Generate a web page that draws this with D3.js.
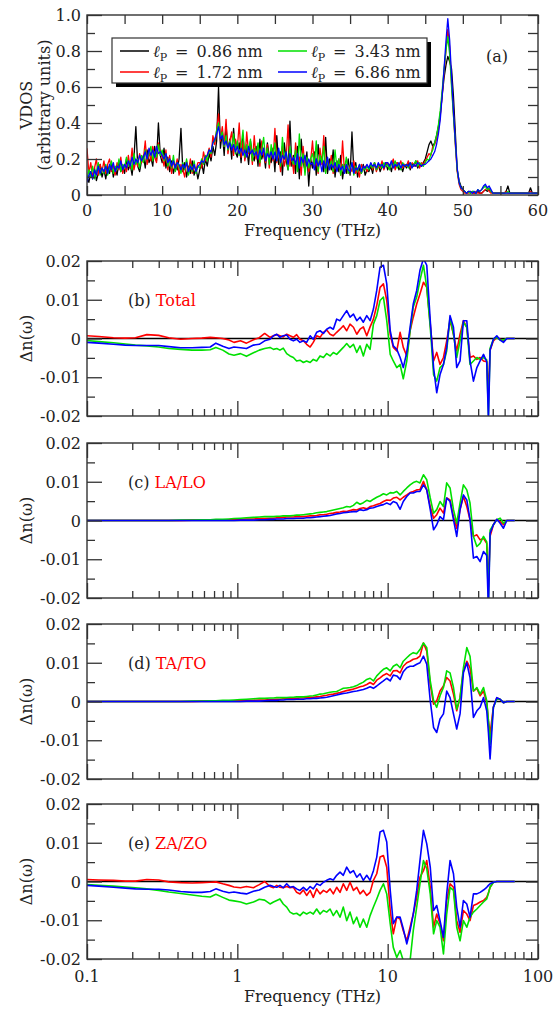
<!DOCTYPE html>
<html>
<head>
<meta charset="utf-8">
<script src="https://cdnjs.cloudflare.com/ajax/libs/d3/7.8.5/d3.min.js"></script>
<style>
body { margin: 0; background: #fff; }
text { font-family: "DejaVu Serif", "Liberation Serif", serif; fill: #222; }
</style>
</head>
<body>
<div id="chart"></div>
<script>
// ---- panel (a): VDOS, frequency grid in THz (0.25 THz steps) ----
var freqA = [0,0.25,0.5,0.75,1,1.25,1.5,1.75,2,2.25,
  2.5,2.75,3,3.25,3.5,3.75,4,4.25,4.5,4.75,
  5,5.25,5.5,5.75,6,6.25,6.5,6.75,7,7.25,
  7.5,7.75,8,8.25,8.5,8.75,9,9.25,9.5,9.75,
  10,10.25,10.5,10.75,11,11.25,11.5,11.75,12,12.25,
  12.5,12.75,13,13.25,13.5,13.75,14,14.25,14.5,14.75,
  15,15.25,15.5,15.75,16,16.25,16.5,16.75,17,17.25,
  17.5,17.75,18,18.25,18.5,18.75,19,19.25,19.5,19.75,
  20,20.25,20.5,20.75,21,21.25,21.5,21.75,22,22.25,
  22.5,22.75,23,23.25,23.5,23.75,24,24.25,24.5,24.75,
  25,25.25,25.5,25.75,26,26.25,26.5,26.75,27,27.25,
  27.5,27.75,28,28.25,28.5,28.75,29,29.25,29.5,29.75,
  30,30.25,30.5,30.75,31,31.25,31.5,31.75,32,32.25,
  32.5,32.75,33,33.25,33.5,33.75,34,34.25,34.5,34.75,
  35,35.25,35.5,35.75,36,36.25,36.5,36.75,37,37.25,
  37.5,37.75,38,38.25,38.5,38.75,39,39.25,39.5,39.75,
  40,40.25,40.5,40.75,41,41.25,41.5,41.75,42,42.25,
  42.5,42.75,43,43.25,43.5,43.75,44,44.25,44.5,44.75,
  45,45.25,45.5,45.75,46,46.25,46.5,46.75,47,47.25,
  47.5,47.75,48,48.25,48.5,48.75,49,49.25,49.5,49.75,
  50,50.25,50.5,50.75,51,51.25,51.5,51.75,52,52.25,
  52.5,52.75,53,53.25,53.5,53.75,54,54.25,54.5,54.75,
  55,55.25,55.5,55.75,56,56.25,56.5,56.75,57,57.25,
  57.5,57.75,58,58.25,58.5,58.75,59,59.25,59.5,59.75,
  60];

var vdos086 = [0.10,0.07,0.13,0.09,0.15,0.08,0.12,0.17,0.10,0.14,
  0.09,0.16,0.12,0.18,0.10,0.15,0.11,0.19,0.13,0.16,
  0.12,0.20,0.14,0.17,0.11,0.21,0.38,0.16,0.13,0.19,
  0.22,0.15,0.25,0.18,0.21,0.16,0.27,0.19,0.40,0.22,
  0.18,0.26,0.15,0.21,0.13,0.19,0.12,0.17,0.14,0.20,
  0.37,0.13,0.18,0.10,0.16,0.12,0.19,0.11,0.15,0.09,
  0.14,0.18,0.12,0.20,0.16,0.23,0.19,0.27,0.22,0.30,
  0.60,0.26,0.35,0.22,0.39,0.25,0.31,0.20,0.37,0.24,
  0.21,0.29,0.18,0.33,0.20,0.26,0.17,0.30,0.22,0.19,
  0.27,0.16,0.31,0.20,0.24,0.15,0.29,0.21,0.18,0.26,
  0.13,0.33,0.17,0.24,0.11,0.29,0.19,0.14,0.41,0.16,
  0.22,0.12,0.27,0.09,0.31,0.18,0.14,0.24,0.05,0.20,
  0.15,0.24,0.11,0.28,0.17,0.21,0.13,0.32,0.12,0.20,
  0.14,0.25,0.10,0.19,0.13,0.22,0.09,0.17,0.12,0.20,
  0.11,0.35,0.13,0.18,0.10,0.15,0.12,0.17,0.11,0.14,
  0.13,0.16,0.12,0.18,0.14,0.17,0.13,0.16,0.15,0.18,
  0.14,0.17,0.13,0.19,0.15,0.18,0.14,0.16,0.13,0.17,
  0.15,0.18,0.14,0.17,0.16,0.19,0.15,0.17,0.16,0.18,
  0.20,0.24,0.28,0.30,0.27,0.29,0.33,0.38,0.45,0.55,
  0.65,0.72,0.77,0.74,0.70,0.55,0.35,0.14,0.08,0.05,
  0.03,0.02,0.01,0.02,0.01,0.02,0.01,0.01,0.02,0.01,
  0.01,0.02,0.03,0.02,0.03,0.02,0.01,0.01,0.01,0.01,
  0.01,0.01,0.01,0.02,0.05,0.01,0.01,0.01,0.01,0.01,
  0.01,0.01,0.01,0.01,0.01,0.01,0.04,0.01,0.01,0.01,
  0.01];

var vdos172 = [0.26,0.12,0.18,0.10,0.15,0.20,0.11,0.17,0.13,0.19,
  0.12,0.17,0.20,0.13,0.16,0.11,0.18,0.14,0.21,0.12,
  0.17,0.13,0.22,0.15,0.26,0.14,0.19,0.16,0.23,0.18,
  0.20,0.30,0.17,0.24,0.19,0.27,0.21,0.18,0.29,0.23,
  0.21,0.16,0.25,0.14,0.22,0.12,0.19,0.15,0.20,0.11,
  0.17,0.14,0.10,0.19,0.13,0.20,0.12,0.16,0.14,0.18,
  0.18,0.15,0.24,0.19,0.22,0.26,0.21,0.33,0.28,0.36,
  0.45,0.30,0.38,0.27,0.42,0.23,0.30,0.35,0.22,0.31,
  0.26,0.40,0.21,0.30,0.19,0.35,0.23,0.28,0.17,0.33,
  0.20,0.26,0.16,0.30,0.22,0.18,0.28,0.15,0.25,0.19,
  0.37,0.18,0.24,0.13,0.27,0.16,0.21,0.39,0.16,0.22,
  0.12,0.29,0.17,0.21,0.11,0.27,0.15,0.20,0.13,0.19,
  0.30,0.16,0.20,0.12,0.26,0.17,0.33,0.13,0.19,0.15,
  0.22,0.12,0.18,0.14,0.20,0.11,0.30,0.13,0.17,0.12,
  0.16,0.13,0.19,0.12,0.15,0.10,0.17,0.14,0.16,0.13,
  0.15,0.17,0.14,0.18,0.13,0.16,0.15,0.19,0.14,0.17,
  0.18,0.15,0.17,0.20,0.14,0.18,0.16,0.19,0.15,0.17,
  0.16,0.19,0.15,0.18,0.17,0.16,0.19,0.15,0.18,0.17,
  0.19,0.21,0.23,0.22,0.27,0.28,0.31,0.36,0.44,0.56,
  0.68,0.80,0.92,0.82,0.62,0.45,0.28,0.13,0.06,0.03,
  0.02,0.01,0.01,0.01,0.02,0.01,0.01,0.02,0.01,0.01,
  0.01,0.02,0.03,0.04,0.02,0.01,0.01,0.01,0.01,0.01,
  0.01,0.01,0.01,0.02,0.01,0.01,0.01,0.01,0.01,0.01,
  0.01,0.01,0.01,0.01,0.01,0.01,0.02,0.01,0.01,0.01,
  0.01];

var vdos343 = [0.08,0.14,0.10,0.16,0.09,0.13,0.18,0.11,0.15,0.12,
  0.17,0.11,0.15,0.19,0.12,0.16,0.14,0.20,0.13,0.17,
  0.15,0.21,0.16,0.19,0.14,0.23,0.17,0.20,0.15,0.22,
  0.18,0.25,0.20,0.23,0.27,0.19,0.24,0.21,0.28,0.22,
  0.25,0.19,0.23,0.16,0.20,0.15,0.22,0.13,0.18,0.16,
  0.12,0.18,0.14,0.20,0.11,0.17,0.13,0.19,0.12,0.16,
  0.15,0.20,0.17,0.22,0.19,0.25,0.23,0.29,0.30,0.36,
  0.40,0.31,0.35,0.27,0.33,0.25,0.30,0.26,0.34,0.23,
  0.30,0.22,0.27,0.36,0.21,0.28,0.24,0.31,0.19,0.26,
  0.22,0.29,0.18,0.25,0.32,0.20,0.26,0.17,0.28,0.21,
  0.29,0.19,0.25,0.16,0.32,0.20,0.24,0.14,0.27,0.19,
  0.17,0.25,0.13,0.34,0.16,0.23,0.11,0.21,0.15,0.20,
  0.23,0.17,0.30,0.13,0.22,0.18,0.27,0.12,0.20,0.15,
  0.19,0.13,0.25,0.15,0.20,0.11,0.17,0.14,0.21,0.12,
  0.15,0.18,0.11,0.16,0.13,0.17,0.12,0.15,0.14,0.16,
  0.14,0.17,0.15,0.18,0.14,0.16,0.17,0.15,0.18,0.16,
  0.17,0.14,0.18,0.16,0.19,0.15,0.17,0.14,0.18,0.16,
  0.17,0.15,0.18,0.16,0.17,0.19,0.16,0.18,0.17,0.16,
  0.18,0.20,0.19,0.23,0.25,0.29,0.33,0.39,0.47,0.58,
  0.70,0.80,0.88,0.78,0.60,0.44,0.29,0.14,0.07,0.04,
  0.03,0.02,0.01,0.02,0.01,0.02,0.02,0.01,0.03,0.02,
  0.03,0.04,0.05,0.03,0.04,0.02,0.01,0.01,0.01,0.01,
  0.01,0.01,0.01,0.01,0.02,0.01,0.01,0.01,0.01,0.01,
  0.01,0.01,0.01,0.01,0.01,0.01,0.01,0.01,0.01,0.01,
  0.01];

var vdos686 = [0.07,0.11,0.13,0.09,0.14,0.11,0.16,0.12,0.15,0.13,
  0.16,0.12,0.17,0.14,0.18,0.13,0.16,0.15,0.19,0.14,
  0.17,0.15,0.19,0.16,0.21,0.17,0.20,0.18,0.22,0.19,
  0.21,0.24,0.20,0.26,0.22,0.25,0.21,0.27,0.23,0.24,
  0.22,0.20,0.23,0.18,0.20,0.16,0.19,0.15,0.18,0.17,
  0.14,0.17,0.15,0.18,0.13,0.16,0.14,0.17,0.13,0.16,
  0.17,0.19,0.18,0.21,0.22,0.25,0.24,0.29,0.31,0.34,
  0.38,0.31,0.33,0.28,0.30,0.26,0.29,0.25,0.28,0.24,
  0.27,0.23,0.26,0.22,0.25,0.21,0.27,0.23,0.25,0.22,
  0.24,0.20,0.25,0.22,0.26,0.19,0.23,0.21,0.24,0.20,
  0.24,0.19,0.26,0.18,0.22,0.20,0.24,0.17,0.23,0.19,
  0.21,0.17,0.23,0.15,0.21,0.18,0.22,0.16,0.20,0.17,
  0.18,0.14,0.20,0.16,0.19,0.13,0.19,0.15,0.21,0.14,
  0.17,0.15,0.18,0.13,0.17,0.14,0.16,0.12,0.17,0.14,
  0.13,0.18,0.12,0.15,0.14,0.17,0.13,0.16,0.15,0.17,
  0.15,0.18,0.16,0.17,0.15,0.18,0.16,0.17,0.15,0.18,
  0.18,0.16,0.19,0.15,0.17,0.16,0.18,0.15,0.17,0.16,
  0.17,0.16,0.18,0.15,0.17,0.16,0.18,0.17,0.16,0.17,
  0.17,0.18,0.19,0.20,0.22,0.24,0.28,0.34,0.42,0.55,
  0.70,0.85,0.98,0.86,0.66,0.47,0.30,0.15,0.07,0.04,
  0.03,0.02,0.01,0.02,0.02,0.01,0.02,0.01,0.03,0.02,
  0.03,0.05,0.06,0.04,0.05,0.03,0.01,0.01,0.01,0.01,
  0.01,0.01,0.01,0.01,0.01,0.01,0.01,0.01,0.01,0.01,
  0.01,0.01,0.01,0.01,0.01,0.01,0.01,0.01,0.01,0.01,
  0.01];

var legendLabels = ["0.86 nm", "1.72 nm", "3.43 nm", "6.86 nm"];
var seriesColors = ["#000000", "#ff0000", "#00e000", "#0000ff"];

// ---- panels (b)-(e): delta n(omega), values in units of 1e-3 ----
var freqD = [0.1,0.12,0.15,0.18,0.21,0.25,0.3,0.35,0.42,0.5,0.58,0.66,0.72,0.8,0.88,0.95,1.05,1.15,1.28,1.4,1.52,
  1.65,1.74,1.83,1.92,2.02,2.13,2.24,2.36,2.48,2.61,
  2.75,2.89,3.05,3.2,3.37,3.55,3.74,3.93,4.14,4.35,
  4.58,4.82,5.07,5.34,5.62,5.92,6.23,6.55,6.89,7.26,
  7.64,8.04,8.46,8.9,9.37,9.86,10.4,10.9,11.5,12.1,
  12.7,13.4,14.1,14.8,15.6,16.4,17.3,18.2,19.2,20.2,
  21.2,22.3,23.5,24.7,26,27.4,28.8,30.3,31.9,33.6,
  35.3,37.2,39.2,41.2,43.4,45.6,46.8,48,50.5,53.2,56,58.9,62,70];

var totalRed = [0.7,0.5,0.2,0.1,0.2,1.0,0.8,0.2,-0.2,0.0,0.1,0.3,0.2,0.0,-0.4,-1.0,-0.6,-1.2,-0.3,0.2,1.3,
  0.3,0.7,1.0,0.7,0.4,1.1,0.7,0.3,1.0,-0.2,
  -0.6,-1.5,-2.2,-1.0,0.7,0.3,1.6,2.2,1.1,0.7,
  1.6,2.4,3.3,2.0,3.7,2.9,1.1,2.4,3.0,0.7,
  3.0,5.0,8.5,13.2,14.1,9.8,1.1,-2.3,-3.2,1.6,
  -2.3,-4.5,2.0,5.5,8.9,11.5,14.5,13.2,3.7,-5.8,
  -3.6,-6.7,-4.9,-0.6,4.6,1.1,-3.2,1.1,4.6,2.9,
  -4.9,-4.5,-5.4,-4.9,-5.8,-6.0,-14.0,-3.0,-0.6,0.3,-0.2,-0.6,0,0];
var totalGreen = [-0.5,-0.8,-1.1,-1.4,-1.7,-1.9,-2.2,-2.6,-2.8,-3.0,-3.0,-2.9,-2.3,-3.0,-4.0,-4.3,-3.9,-4.6,-3.7,-3.0,-2.6,
  -2.3,-2.8,-2.6,-3.0,-2.5,-3.9,-4.5,-4.9,-5.8,-5.6,
  -6.2,-5.8,-6.2,-5.4,-5.8,-4.5,-4.9,-3.9,-4.5,-3.6,
  -4.1,-3.2,-2.3,-1.3,-2.3,-1.5,-3.6,-1.9,-4.5,-1.5,
  -2.8,3.7,5.9,9.8,10.7,4.6,-4.1,-5.8,-7.5,-6.7,
  -10.4,-5.8,2.0,8.1,10.7,15.0,18.9,13.2,2.9,-9.3,
  -11.0,-7.5,-6.7,-3.2,5.5,1.1,-4.9,-0.6,4.2,2.9,
  -6.7,-5.8,-4.9,-5.4,-4.9,-5.5,-19.7,-2.5,-0.2,0.3,-0.4,-0.4,0,0];
var totalBlue = [-1.0,-1.2,-1.5,-1.7,-1.8,-1.8,-1.8,-2.1,-2.4,-2.4,-2.3,-2.2,-1.2,-2.0,-2.6,-2.2,-2.4,-2.6,-1.7,-1.5,-0.6,
  -0.2,0.7,1.1,0.3,0.7,0.9,-0.2,-0.6,-0.2,-1.0,
  -0.6,-1.0,0.7,-0.2,1.6,2.0,1.3,2.4,2.9,2.4,
  5.0,4.6,5.9,7.2,5.5,6.3,4.6,5.5,4.2,5.9,
  4.6,7.6,12.4,18.4,18.9,14.1,2.0,-1.9,-2.8,-4.9,
  -7.5,-3.6,2.9,8.9,12.4,17.6,20.6,18.9,4.6,-7.5,
  -14.0,-9.3,-6.7,-2.3,5.9,2.9,-7.5,-5.8,4.6,4.6,
  -5.8,-11.0,-7.5,-5.8,-4.1,-6.0,-21.0,-3.0,-0.2,0.7,-0.4,-1.0,0,0];

var laRed = [0,0,0,0,0,0,0,0,0,0.1,0.1,0.1,0.2,0.2,0.2,0.3,0.3,0.4,0.4,0.5,0.5,
  0.6,0.6,0.7,0.7,0.8,0.9,0.9,0.9,1.0,1.0,
  1.0,1.1,1.2,1.2,1.3,1.5,1.5,1.6,1.8,1.9,
  2.1,2.2,2.4,2.3,2.6,2.8,2.7,3.1,3.3,3.0,
  3.6,3.8,4.1,4.4,4.9,5.3,5.2,5.8,6.0,5.3,
  6.0,6.6,7.2,7.5,7.9,8.0,10.1,7.9,3.6,0.6,
  1.5,3.2,1.9,5.8,5.3,1.0,-2.0,2.8,6.2,3.6,
  0.2,-4.1,-3.7,-5.0,-4.6,-5.9,-17.0,-4.1,-1.1,0.3,-0.3,-1.1,0,0];
var laGreen = [0,0,0,0,0,0,0,0,0.1,0.1,0.2,0.2,0.3,0.3,0.4,0.5,0.6,0.7,0.8,0.9,1.0,
  1.0,1.0,1.1,1.1,1.2,1.2,1.2,1.3,1.4,1.4,
  1.5,1.6,1.7,1.8,2.0,2.1,2.2,2.3,2.5,2.7,
  2.9,3.1,3.3,3.6,3.5,3.9,4.7,4.2,4.6,5.2,
  4.9,5.5,6.0,6.4,6.9,6.6,7.2,7.1,7.5,6.6,
  7.5,8.4,9.2,9.8,10.1,9.7,11.8,10.5,5.8,1.9,
  2.8,4.9,3.6,9.7,8.4,2.8,-0.7,4.5,9.2,7.9,
  4.5,-4.1,-6.7,-5.9,-4.1,-5.5,-21.0,-2.5,-1.1,0.2,0.6,-0.7,0,0];
var laBlue = [0,0,0,0,0,0,0,0,0,0,0,0,0,0,0,0,0.1,0.1,0.1,0.2,0.2,
  0.3,0.3,0.4,0.4,0.4,0.5,0.5,0.5,0.6,0.6,
  0.6,0.7,0.7,0.8,0.9,1.0,1.1,1.2,1.3,1.5,
  1.7,1.8,2.0,2.1,2.2,2.3,2.3,2.8,2.6,2.8,
  3.2,3.3,3.6,3.9,4.1,4.5,4.1,4.9,4.5,2.9,
  4.9,6.2,7.1,7.1,7.5,7.5,9.2,7.9,2.8,-2.4,
  -1.1,1.0,0.2,5.8,4.9,0.2,-4.1,2.8,6.6,5.3,
  0.2,-9.7,-9.3,-10.6,-8.0,-9.0,-23.0,-3.3,-1.1,0.3,-0.7,-2.0,0,0];

var taRed = [0,0,0,0,0,0,0,0,0,0,0.1,0.1,0.1,0.1,0.2,0.2,0.2,0.3,0.3,0.4,0.4,
  0.5,0.5,0.6,0.6,0.7,0.7,0.8,0.8,0.8,0.9,
  0.9,1.0,1.1,1.1,1.2,1.3,1.5,1.6,1.8,1.9,
  2.1,2.3,2.6,2.8,3.0,3.2,3.5,3.8,4.0,4.4,
  4.9,4.4,5.5,6.1,6.8,7.2,6.6,7.9,8.0,7.4,
  9.1,10.0,10.4,10.9,11.1,11.7,15.1,13.0,4.4,-0.7,
  0.2,2.7,4.0,6.2,5.3,1.9,-2.4,1.0,7.9,10.4,
  8.7,2.7,3.4,1.5,2.7,-0.3,-5.0,-8.4,-1.4,0.9,0.5,-0.3,0,0];
var taGreen = [0,0,0,0,0,0,0,0,0,0.1,0.1,0.2,0.2,0.3,0.3,0.4,0.5,0.6,0.7,0.8,0.8,
  0.9,0.9,1.0,1.0,1.0,1.0,1.1,1.1,1.2,1.2,
  1.2,1.3,1.4,1.5,1.7,1.9,2.0,2.2,2.4,2.5,
  2.6,3.0,3.4,3.5,3.6,3.8,4.1,4.6,5.0,5.7,
  6.0,5.3,6.6,7.5,8.3,8.7,7.9,9.1,9.6,8.7,
  10.4,11.3,12.1,12.6,12.3,13.4,15.1,13.9,5.3,0.2,
  -1.5,1.5,3.6,7.9,7.4,3.6,-2.0,1.0,8.7,13.9,
  11.7,2.7,3.6,1.9,3.6,0.2,-5.0,-11.0,-1.5,0.6,0.6,-0.3,0,0];
var taBlue = [0,0,0,0,0,0,0,0,0,0,0,0,0,0,0,0,0,0.1,0.1,0.1,0.2,
  0.3,0.3,0.3,0.4,0.4,0.5,0.5,0.5,0.6,0.6,
  0.6,0.7,0.7,0.8,0.8,0.9,1.0,1.1,1.3,1.5,
  1.7,1.9,2.1,2.2,2.4,2.6,2.7,2.9,3.1,3.4,
  3.8,3.4,4.0,4.7,5.3,6.0,5.3,6.8,6.6,5.7,
  7.7,8.7,9.1,9.1,9.6,10.0,11.7,9.6,0.2,-6.7,
  -8.0,-4.5,-3.2,2.7,1.0,-3.2,-7.1,-3.2,7.4,10.0,
  6.2,-4.1,-2.4,-1.5,1.0,-2.4,-8.0,-14.8,-1.5,1.0,0.6,-0.3,0,0];

var zaRed = [0.5,0.4,0.3,0.1,0.1,0.5,0.4,-0.1,-0.3,-0.4,-0.3,-0.2,-0.1,-0.6,-1.0,-1.4,-1.6,-1.3,-1.6,-0.8,0.0,
  -1.3,-1.6,-1.0,-1.5,-1.6,-1.3,-1.6,-1.5,-2.8,-3.2,
  -2.2,-3.6,-2.3,-4.1,-1.9,-3.2,-2.3,-2.8,-1.9,-3.2,
  -1.5,-2.8,-0.6,-2.3,-0.2,-2.3,-1.5,-3.2,-2.3,-3.6,
  -2.8,0.3,2.0,6.3,6.7,3.7,-7.5,-13.5,-9.2,-9.7,
  -12.7,-15.3,-11.8,-8.4,-4.1,1.1,2.8,5.4,-1.5,-11.8,
  -8.4,-10.9,-15.3,-4.9,-0.6,-1.5,-10.1,-13.1,-7.5,-8.4,
  -10.1,-6.2,-5.8,-5.3,-4.9,-4.1,-3.0,-1.5,-0.2,0,0,0,0,0];
var zaGreen = [-0.8,-1.0,-1.2,-1.4,-1.6,-1.9,-2.3,-2.7,-3.1,-3.5,-3.8,-4.0,-3.3,-4.1,-4.8,-5.0,-5.3,-5.8,-5.3,-4.6,-4.8,
  -5.8,-5.3,-4.9,-4.5,-5.8,-6.6,-7.9,-8.4,-8.2,-8.8,
  -7.9,-8.4,-7.9,-8.4,-7.1,-8.4,-7.5,-7.9,-7.1,-8.8,
  -7.5,-9.2,-6.6,-10.1,-7.9,-10.9,-9.2,-11.8,-9.7,-11.8,
  -8.8,-6.6,-4.5,-2.3,-0.6,-3.2,-10.9,-17.0,-19.6,-17.8,
  -20.4,-24.0,-20.4,-12.7,-6.6,-0.6,5.4,3.3,-3.2,-13.5,
  -10.1,-11.8,-18.7,-8.4,-1.5,-2.3,-11.8,-15.3,-10.1,-11.8,
  -9.2,-7.9,-7.1,-6.2,-5.3,-4.5,-3.0,-1.5,-0.2,0,0,0,0,0];
var zaBlue = [-1.0,-1.2,-1.5,-1.7,-1.9,-2.0,-2.0,-2.2,-2.6,-2.8,-2.8,-2.6,-1.9,-2.5,-2.9,-2.7,-3.0,-3.2,-2.5,-2.2,-1.5,
  -1.0,-1.3,-1.5,-1.0,-1.6,-0.6,-1.5,-1.3,-1.9,-2.3,
  -1.5,-2.3,-1.3,-1.9,-0.6,-1.0,-0.2,0.3,0.7,0.4,
  1.6,2.4,1.6,3.7,2.2,2.8,1.1,2.0,0.3,1.6,
  0.3,2.8,6.3,12.8,13.2,10.2,-2.3,-10.9,-9.2,-9.2,
  -12.2,-16.1,-12.7,-8.4,-2.3,5.4,13.2,9.7,3.7,-7.5,
  -6.2,-10.1,-14.4,-3.2,5.4,2.0,-6.6,-11.8,-4.9,-5.8,
  -9.2,-3.2,-3.2,-2.8,-2.2,-1.5,-1.0,-0.6,-0.2,0,0,0,0,0];

var panelTags = ["(b)", "(c)", "(d)", "(e)"];
var panelNames = ["Total", "LA/LO", "TA/TO", "ZA/ZO"];

// ---- tick labels ----
var xTicksA = [0, 10, 20, 30, 40, 50, 60];
var yTicksA = [0, 0.2, 0.4, 0.6, 0.8, 1.0];
var yLabelsA = ["0", "0.2", "0.4", "0.6", "0.8", "1.0"];
var xTicksLog = [0.1, 1, 10, 100];
var xLabelsLog = ["0.1", "1", "10", "100"];
var yTicksD = [-20, -10, 0, 10, 20];
var yLabelsD = ["-0.02", "-0.01", "0", "0.01", "0.02"];

var width = 554, height = 1009;
var left = 87, right = 538;
var fs = "16px";

var svg = d3.select("#chart")
    .append("svg")
    .attr("width", width)
    .attr("height", height);

// draws ticks pointing into the plot on all four sides
function drawTicks(g, x, y, top, bottom, xMajor, xMinor, yMajor, yMinor, lens) {
  var add = function(axis, tx, ty) {
    var a = g.append("g")
        .attr("transform", `translate(${tx},${ty})`)
        .call(axis);
    a.select(".domain").remove();
    a.selectAll("line").attr("stroke", "#333").attr("stroke-width", 1.3);
  };
  var noLab = function() { return ""; };
  add(d3.axisTop(x).tickValues(xMajor).tickSize(lens[0]).tickFormat(noLab), 0, bottom);
  add(d3.axisTop(x).tickValues(xMinor).tickSize(lens[1]).tickFormat(noLab), 0, bottom);
  add(d3.axisBottom(x).tickValues(xMajor).tickSize(lens[0]).tickFormat(noLab), 0, top);
  add(d3.axisBottom(x).tickValues(xMinor).tickSize(lens[1]).tickFormat(noLab), 0, top);
  add(d3.axisRight(y).tickValues(yMajor).tickSize(lens[2]).tickFormat(noLab), left, 0);
  add(d3.axisRight(y).tickValues(yMinor).tickSize(lens[3]).tickFormat(noLab), left, 0);
  add(d3.axisLeft(y).tickValues(yMajor.concat(yMinor)).tickSize(lens[4]).tickFormat(noLab), right, 0);
}

function frame(g, top, bottom) {
  g.append("rect")
    .attr("x", left).attr("y", top)
    .attr("width", right - left).attr("height", bottom - top)
    .attr("fill", "none")
    .attr("stroke", "#333")
    .attr("stroke-width", 1.4);
}

function clip(id, top, bottom) {
  svg.append("clipPath").attr("id", id)
    .append("rect")
    .attr("x", left).attr("y", top)
    .attr("width", right - left).attr("height", bottom - top);
}

// ================= panel (a) =================
var topA = 15, botA = 195;
var xA = d3.scaleLinear().domain([0, 60]).range([left, right]);
var yA = d3.scaleLinear().domain([0, 1]).range([botA, topA]);
clip("clipA", topA, botA);

var gA = svg.append("g");
var lineA = d3.line()
    .x(function(d) { return xA(d[0]); })
    .y(function(d) { return yA(d[1]); });

var plotA = gA.append("g").attr("clip-path", "url(#clipA)");
[vdos086, vdos172, vdos343, vdos686].forEach(function(s, k) {
  plotA.append("path")
    .datum(freqA.map(function(f, i) { return [f, s[i]]; }))
    .attr("fill", "none")
    .attr("stroke", seriesColors[k])
    .attr("stroke-width", 1.3)
    .attr("stroke-linejoin", "round")
    .attr("d", lineA);
});

drawTicks(gA, xA, yA, topA, botA,
  xTicksA, [5, 15, 25, 35, 45, 55],
  yTicksA, [0.1, 0.3, 0.5, 0.7, 0.9],
  [9, 9, 15, 8, 10]);
frame(gA, topA, botA);

gA.selectAll(".xlabA")
  .data(xTicksA).enter()
  .append("text")
  .attr("x", function(d) { return xA(d); })
  .attr("y", 216)
  .attr("text-anchor", "middle")
  .style("font-size", fs)
  .text(function(d) { return d; });

gA.selectAll(".ylabA")
  .data(yTicksA).enter()
  .append("text")
  .attr("x", 81)
  .attr("y", function(d) { return yA(d) + 6; })
  .attr("text-anchor", "end")
  .style("font-size", fs)
  .text(function(d, i) { return yLabelsA[i]; });

gA.append("text")
  .attr("x", (left + right) / 2).attr("y", 236)
  .attr("text-anchor", "middle")
  .style("font-size", fs)
  .text("Frequency (THz)");

gA.append("text")
  .attr("transform", "translate(32,105)rotate(-90)")
  .attr("text-anchor", "middle")
  .style("font-size", fs)
  .text("VDOS");
gA.append("text")
  .attr("transform", "translate(50,105)rotate(-90)")
  .attr("text-anchor", "middle")
  .style("font-size", fs)
  .text("(arbitrary units)");

gA.append("text")
  .attr("x", 497).attr("y", 62)
  .attr("text-anchor", "middle")
  .style("font-size", fs)
  .text("(a)");

// legend with drop shadow
var leg = gA.append("g");
leg.append("rect").attr("x", 116).attr("y", 42).attr("width", 315).attr("height", 45).attr("fill", "#000");
leg.append("rect").attr("x", 112).attr("y", 38).attr("width", 315).attr("height", 45)
  .attr("fill", "#fff").attr("stroke", "#333").attr("stroke-width", 1.2);

var legPos = [[120, 51], [120, 72], [278, 51], [278, 72]];
legendLabels.forEach(function(lab, k) {
  var p = legPos[k];
  leg.append("line")
    .attr("x1", p[0]).attr("x2", p[0] + 29)
    .attr("y1", p[1]).attr("y2", p[1])
    .attr("stroke", seriesColors[k]).attr("stroke-width", 1.5);
  var t = leg.append("text")
    .attr("x", p[0] + 33).attr("y", p[1] + 6)
    .style("font-size", fs);
  t.append("tspan").style("font-style", "italic").text("\u2113");
  t.append("tspan").attr("dy", 4).style("font-size", "11px").text("P");
  t.append("tspan").attr("dy", -4).text("\u2002=\u2002" + lab);
});

// ================= panels (b)-(e) =================
var xD = d3.scaleLog().domain([0.1, 100]).range([left, right]);
var minorLog = [0.2,0.3,0.4,0.5,0.6,0.7,0.8,0.9,2,3,4,5,6,7,8,9,20,30,40,50,60,70,80,90];
var panelTops = [261, 443, 624, 804];
var panelH = 155;
var panelSeries = [
  [totalRed, totalGreen, totalBlue],
  [laRed, laGreen, laBlue],
  [taRed, taGreen, taBlue],
  [zaRed, zaGreen, zaBlue]
];
var dColors = ["#ff0000", "#00e000", "#0000ff"];

panelTops.forEach(function(top, p) {
  var bot = top + panelH;
  var y = d3.scaleLinear().domain([-20, 20]).range([bot, top]);
  var g = svg.append("g");
  clip("clipD" + p, top, bot);

  var line = d3.line()
      .x(function(d) { return xD(d[0]); })
      .y(function(d) { return y(d[1]); });

  var plot = g.append("g").attr("clip-path", "url(#clipD" + p + ")");
  plot.append("line")
    .attr("x1", left).attr("x2", right)
    .attr("y1", y(0)).attr("y2", y(0))
    .attr("stroke", "#000").attr("stroke-width", 1.3);

  panelSeries[p].forEach(function(s, k) {
    plot.append("path")
      .datum(freqD.map(function(f, i) { return [f, s[i]]; }))
      .attr("fill", "none")
      .attr("stroke", dColors[k])
      .attr("stroke-width", 1.6)
      .attr("stroke-linejoin", "round")
      .attr("d", line);
  });

  drawTicks(g, xD, y, top, bot,
    xTicksLog, minorLog,
    yTicksD, [-15, -5, 5, 15],
    [15, 7, 15, 8, 12]);
  frame(g, top, bot);

  g.selectAll(".ylab")
    .data(yTicksD).enter()
    .append("text")
    .attr("x", 81)
    .attr("y", function(d) { return y(d) + 6; })
    .attr("text-anchor", "end")
    .style("font-size", fs)
    .text(function(d, i) { return yLabelsD[i]; });

  g.append("text")
    .attr("transform", `translate(32,${(top + bot) / 2})rotate(-90)`)
    .attr("text-anchor", "middle")
    .style("font-size", fs)
    .text("\u0394n(\u03c9)");

  var lab = g.append("text")
    .attr("x", 128).attr("y", top + 45)
    .style("font-size", fs);
  lab.append("tspan").text(panelTags[p] + " ");
  lab.append("tspan").style("fill", "#ff0000").text(panelNames[p]);
});

// bottom axis labels
svg.selectAll(".xlabD")
  .data(xTicksLog).enter()
  .append("text")
  .attr("x", function(d) { return xD(d); })
  .attr("y", 982)
  .attr("text-anchor", "middle")
  .style("font-size", fs)
  .text(function(d, i) { return xLabelsLog[i]; });

svg.append("text")
  .attr("x", (left + right) / 2).attr("y", 1002)
  .attr("text-anchor", "middle")
  .style("font-size", fs)
  .text("Frequency (THz)");
</script>
</body>
</html>
